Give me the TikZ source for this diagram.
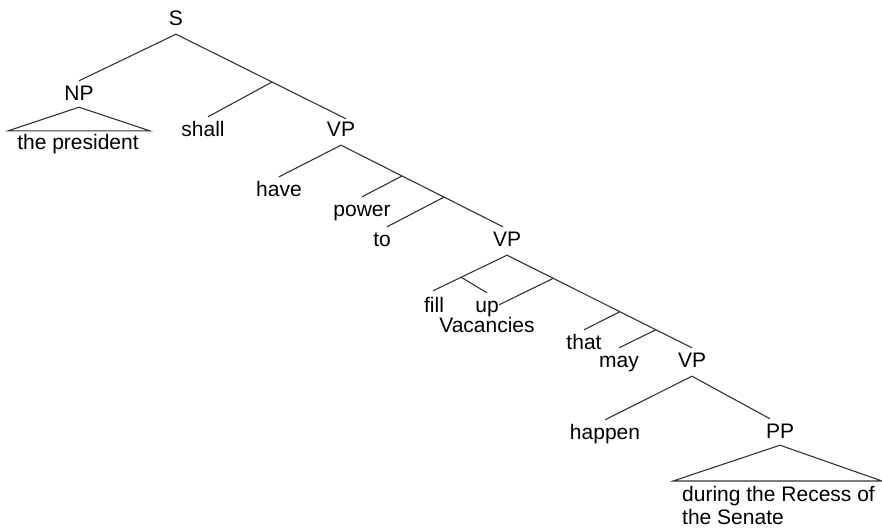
\documentclass[tikz,border=0pt]{standalone}
\usepackage{fontspec}
\setmainfont{Liberation Sans}
\usetikzlibrary{calc}
\begin{document}
\begin{tikzpicture}[x=1pt,y=-1pt,
  lab/.style={font=\fontsize{21}{23}\selectfont, inner xsep=0pt, inner ysep=4pt,
    text height=15pt, text depth=5pt, anchor=base},
  edge/.style={draw=black!80, line width=1.1pt}]
\useasboundingbox (0,0) rectangle (882,528);
% labels
\node[lab] (S) at (176,25) {S};
\node[lab] (NP) at (79,100) {NP};
\node[lab] (pres) at (78,149) {the president};
\node[lab] (shall) at (203,136) {shall};
\node[lab] (VP1) at (341,136) {VP};
\node[lab] (have) at (279,196) {have};
\node[lab] (power) at (362,216) {power};
\node[lab] (to) at (382,246) {to};
\node[lab] (VP2) at (507,246) {VP};
\node[lab] (fill) at (434,312) {fill};
\node[lab] (up) at (487,312) {up};
\node[lab] (vac) at (487,332) {Vacancies};
\node[lab] (that) at (584,349) {that};
\node[lab] (may) at (619,367) {may};
\node[lab] (VP3) at (692,367) {VP};
\node[lab] (happen) at (605,439) {happen};
\node[lab] (PP) at (780,438) {PP};
\node[font=\fontsize{21}{22.5}\selectfont, inner sep=0pt, anchor=north west, align=left]
  (dur) at (682,486.5) {during the Recess of\\the Senate};
% attachment points
\coordinate (vp1top) at ($(VP1.north)+(5,2)$);
\coordinate (vp2top) at ($(VP2.north)+(-4,0)$);
\coordinate (filltop) at ($(fill.north)+(-1,-2)$);
\coordinate (b1) at ($(S.south)!0.565!(vp1top)$);
\coordinate (b2) at ($(VP1.south)!0.377!(vp2top)$);
\coordinate (b3) at ($(VP1.south)!0.636!(vp2top)$);
\coordinate (b4) at ($(VP2.south)!0.62!(filltop)$);
\coordinate (b5) at ($(VP2.south)!0.25!(VP3.north)$);
\coordinate (b6) at ($(VP2.south)!0.61!(VP3.north)$);
\coordinate (b7) at ($(VP2.south)!0.805!(VP3.north)$);
% edges
\draw[edge] (S.south) -- (NP.north);
\draw[edge] (S.south) -- (vp1top);
\draw[edge] (b1) -- ($(shall.north)+(5,0)$);
\draw[edge] ($(pres.north west)+(-9,1)$) -- ($(NP.south)+(0,-2)$) -- ($(pres.north east)+(11,1)$) -- cycle;
\draw[edge] (VP1.south) -- (have.north);
\draw[edge] (VP1.south) -- (vp2top);
\draw[edge] (b2) -- (power.north);
\draw[edge] (b3) -- ($(to.north)+(5,0)$);
\draw[edge] (VP2.south) -- (filltop);
\draw[edge] (b4) -- (up.north);
\draw[edge] (VP2.south) -- (VP3.north);
\draw[edge] (b5) -- ($(vac.north)+(12,-8)$);
\draw[edge] (b6) -- (that.north);
\draw[edge] (b7) -- (may.north);
\draw[edge] (VP3.south) -- (happen.north);
\draw[edge] (VP3.south) -- ($(PP.north)+(-10,0)$);
\draw[edge] (673,481) -- ($(PP.south)+(0,-2)$) -- (882,481) -- cycle;
\end{tikzpicture}
\end{document}
